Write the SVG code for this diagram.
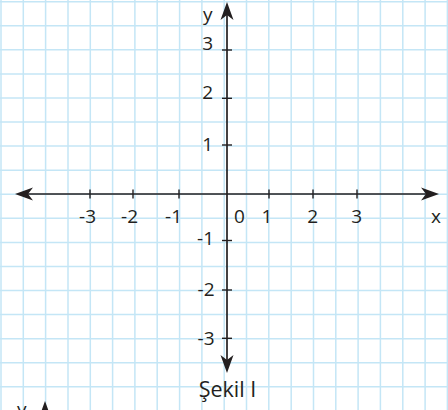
<svg xmlns="http://www.w3.org/2000/svg" xmlns:xlink="http://www.w3.org/1999/xlink" width="448" height="410" viewBox="0 0 448 410">
<style>
.grid line{stroke:#c4e6f6;stroke-width:1.5}
.axis{stroke:#231f20;stroke-width:1.7;fill:none}
.tick{stroke:#231f20;stroke-width:1.4}
.head{fill:#231f20}
text{font-family:"Open Sans","Noto Sans",sans-serif;font-size:19px;fill:#231f20}
.cap{font-size:21.5px}
</style>
<defs>
<path id="ah" d="M0,0 L-18,-6.5 L-13,0 L-18,6.5 Z"/>
</defs>
<rect width="448" height="410" fill="#ffffff"/>
<g id="grid" class="grid">
<line x1="1" y1="0" x2="1" y2="410"/>
<line x1="23.3" y1="0" x2="23.3" y2="410"/>
<line x1="45.6" y1="0" x2="45.6" y2="410"/>
<line x1="68" y1="0" x2="68" y2="410"/>
<line x1="90.3" y1="0" x2="90.3" y2="410"/>
<line x1="112.6" y1="0" x2="112.6" y2="410"/>
<line x1="134.9" y1="0" x2="134.9" y2="410"/>
<line x1="157.2" y1="0" x2="157.2" y2="410"/>
<line x1="179.6" y1="0" x2="179.6" y2="410"/>
<line x1="201.9" y1="0" x2="201.9" y2="410"/>
<line x1="224.2" y1="0" x2="224.2" y2="410"/>
<line x1="246.5" y1="0" x2="246.5" y2="410"/>
<line x1="268.8" y1="0" x2="268.8" y2="410"/>
<line x1="291.2" y1="0" x2="291.2" y2="410"/>
<line x1="313.5" y1="0" x2="313.5" y2="410"/>
<line x1="335.8" y1="0" x2="335.8" y2="410"/>
<line x1="358.1" y1="0" x2="358.1" y2="410"/>
<line x1="380.4" y1="0" x2="380.4" y2="410"/>
<line x1="402.8" y1="0" x2="402.8" y2="410"/>
<line x1="425.1" y1="0" x2="425.1" y2="410"/>
<line x1="447.4" y1="0" x2="447.4" y2="410"/>
<line x1="0" y1="1.7" x2="448" y2="1.7"/>
<line x1="0" y1="25.8" x2="448" y2="25.8"/>
<line x1="0" y1="49.8" x2="448" y2="49.8"/>
<line x1="0" y1="73.9" x2="448" y2="73.9"/>
<line x1="0" y1="98" x2="448" y2="98"/>
<line x1="0" y1="122" x2="448" y2="122"/>
<line x1="0" y1="146.1" x2="448" y2="146.1"/>
<line x1="0" y1="170.2" x2="448" y2="170.2"/>
<line x1="0" y1="194.3" x2="448" y2="194.3"/>
<line x1="0" y1="218.3" x2="448" y2="218.3"/>
<line x1="0" y1="242.4" x2="448" y2="242.4"/>
<line x1="0" y1="266.5" x2="448" y2="266.5"/>
<line x1="0" y1="290.5" x2="448" y2="290.5"/>
<line x1="0" y1="314.6" x2="448" y2="314.6"/>
<line x1="0" y1="338.7" x2="448" y2="338.7"/>
<line x1="0" y1="362.7" x2="448" y2="362.7"/>
<line x1="0" y1="386.8" x2="448" y2="386.8"/>
</g>
<g id="axes">
<line class="axis" x1="22" y1="194" x2="430" y2="194"/>
<line class="axis" x1="227" y1="10" x2="227" y2="365"/>
<use href="#ah" xlink:href="#ah" class="head" transform="translate(439,194)"/>
<use href="#ah" xlink:href="#ah" class="head" transform="translate(15,194) rotate(180)"/>
<use href="#ah" xlink:href="#ah" class="head" transform="translate(227,2) rotate(-90)"/>
<use href="#ah" xlink:href="#ah" class="head" transform="translate(227,373) rotate(90)"/>
</g>
<g id="ticks">
<line class="tick" x1="90" y1="189.5" x2="90" y2="198.5"/>
<line class="tick" x1="133" y1="189.5" x2="133" y2="198.5"/>
<line class="tick" x1="179" y1="189.5" x2="179" y2="198.5"/>
<line class="tick" x1="269" y1="189.5" x2="269" y2="198.5"/>
<line class="tick" x1="313" y1="189.5" x2="313" y2="198.5"/>
<line class="tick" x1="357" y1="189.5" x2="357" y2="198.5"/>
<line class="tick" x1="222" y1="50" x2="232" y2="50"/>
<line class="tick" x1="222" y1="98.3" x2="232" y2="98.3"/>
<line class="tick" x1="222" y1="145" x2="232" y2="145"/>
<line class="tick" x1="222" y1="240.5" x2="232" y2="240.5"/>
<line class="tick" x1="222" y1="290" x2="232" y2="290"/>
<line class="tick" x1="222" y1="338.3" x2="232" y2="338.3"/>
</g>
<g id="labels">
<text x="203" y="21">y</text>
<text x="431" y="223">x</text>
<text x="96" y="222.5" text-anchor="end">-3</text>
<text x="138" y="222.5" text-anchor="end">-2</text>
<text x="182" y="222.5" text-anchor="end">-1</text>
<text x="239.5" y="222.5" text-anchor="middle">0</text>
<text x="267" y="222.5" text-anchor="middle">1</text>
<text x="312.7" y="222.5" text-anchor="middle">2</text>
<text x="356.7" y="222.5" text-anchor="middle">3</text>
<text x="213" y="50" text-anchor="end">3</text>
<text x="213" y="99.3" text-anchor="end">2</text>
<text x="213" y="150.5" text-anchor="end">1</text>
<text x="214" y="244.5" text-anchor="end">-1</text>
<text x="214.5" y="295.5" text-anchor="end">-2</text>
<text x="214.5" y="345" text-anchor="end">-3</text>
<text class="cap" x="227.5" y="397" text-anchor="middle">Şekil I</text>
</g>
<g id="next-figure">
<use href="#ah" xlink:href="#ah" class="head" transform="translate(45,401) rotate(-90)"/>
<text x="17" y="416">y</text>
</g>
</svg>
